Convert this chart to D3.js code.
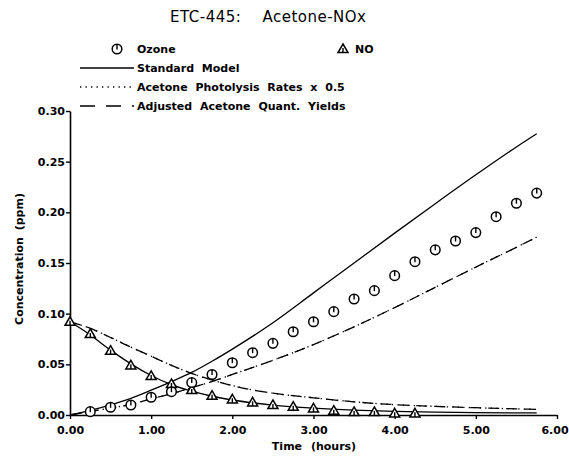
<!DOCTYPE html>
<html>
<head>
<meta charset="utf-8">
<script src="https://cdn.jsdelivr.net/npm/d3@7"></script>
<style>
  html, body { margin: 0; padding: 0; background: #fff; }
  svg { display: block; }
  .tick text { font-family: "DejaVu Sans", sans-serif; font-weight: bold; font-size: 11px; fill: #000; }
</style>
</head>
<body>
<script>
// ---------------- data ----------------
const chartTitle = "ETC-445:    Acetone-NOx";
const xTicks = [0, 1, 2, 3, 4, 5, 6];
const yTicks = [0, 0.05, 0.10, 0.15, 0.20, 0.25, 0.30];

// experimental ozone (circles)
const ozoneTime = [0.25,0.5,0.75,1.0,1.25,1.5,1.75,2.0,2.25,2.5,2.75,3.0,3.25,3.5,3.75,4.0,4.25,4.5,4.75,5.0,5.25,5.5,5.75];
const ozoneObs  = [0.0033,0.0076,0.0099,0.0175,0.023,0.032,0.040,0.0516,0.0615,0.0707,0.0822,0.092,0.102,0.1145,0.1227,0.1375,0.1513,0.163,0.1717,0.180,0.1957,0.209,0.219];

// experimental NO (triangles)
const noTime = [0,0.25,0.5,0.75,1.0,1.25,1.5,1.75,2.0,2.25,2.5,2.75,3.0,3.25,3.5,3.75,4.0,4.25];
const noObs  = [0.092,0.080,0.0635,0.049,0.0385,0.0306,0.0247,0.019,0.0155,0.0125,0.0099,0.0082,0.0066,0.0043,0.003,0.003,0.0017,0.0017];

// model calculations
const modelTime = [0,0.25,0.5,0.75,1.0,1.25,1.5,1.75,2.0,2.5,3.0,3.5,4.0,4.5,5.0,5.5,5.75];
const standardO3 = [0,0.0045,0.010,0.0165,0.0245,0.033,0.042,0.053,0.065,0.091,0.1205,0.150,0.1795,0.2085,0.237,0.2645,0.2775];
const standardNO = [0.092,0.079,0.064,0.0505,0.039,0.030,0.0235,0.0185,0.0148,0.0098,0.0068,0.0048,0.0035,0.0028,0.0024,0.0021,0.002];
const photolysisO3 = [0,0.0035,0.0068,0.0105,0.016,0.021,0.027,0.033,0.040,0.054,0.0695,0.087,0.106,0.126,0.146,0.1655,0.1755];
const photolysisNO = [0.092,0.0855,0.0765,0.067,0.058,0.049,0.041,0.0345,0.029,0.0215,0.017,0.013,0.0102,0.0085,0.0072,0.006,0.0056];
const adjustedO3 = [0,0.0035,0.0068,0.0105,0.016,0.021,0.027,0.033,0.040,0.054,0.0695,0.087,0.106,0.126,0.146,0.1655,0.1755];
const adjustedNO = [0.092,0.0855,0.0765,0.067,0.058,0.049,0.041,0.0345,0.029,0.0215,0.017,0.013,0.0102,0.0085,0.0072,0.006,0.0056];

const legendItems = ["Standard Model", "Acetone Photolysis Rates x 0.5", "Adjusted Acetone Quant. Yields"];

// ---------------- chart ----------------
const W = 569, H = 457;
const svg = d3.select("body").append("svg").attr("width", W).attr("height", H);

const x = d3.scaleLinear().domain([0, 6]).range([70, 557]);
const y = d3.scaleLinear().domain([0, 0.30]).range([415, 111]);

const textFont = "DejaVu Sans, sans-serif";

// title
svg.append("text")
  .attr("x", 170).attr("y", 22)
  .attr("font-family", textFont).attr("font-size", 15)
  .attr("letter-spacing", 0.5)
  .style("white-space", "pre")
  .attr("fill", "#000")
  .text(chartTitle);

// axes
const xAxis = d3.axisBottom(x).tickValues(xTicks).tickFormat(d3.format(".2f"))
  .tickSize(4).tickSizeOuter(0).tickPadding(7);
const yAxis = d3.axisLeft(y).tickValues(yTicks).tickFormat(d3.format(".2f"))
  .tickSize(4).tickSizeOuter(0).tickPadding(1);

const gx = svg.append("g").attr("transform", "translate(0,415)").call(xAxis);
const gy = svg.append("g").attr("transform", "translate(70,0)").call(yAxis);
[gx, gy].forEach(g => {
  g.select(".domain").attr("stroke", "#000").attr("stroke-width", 1.6);
  g.selectAll(".tick line").attr("stroke", "#000").attr("stroke-width", 1.4);
});
gx.selectAll(".tick text").filter(d => d === 6).attr("dx", -2.5);

// axis titles
svg.append("text")
  .attr("x", 314).attr("y", 450)
  .attr("text-anchor", "middle")
  .attr("font-family", textFont).attr("font-weight", "bold").attr("font-size", 11)
  .attr("word-spacing", 5)
  .text("Time (hours)");

svg.append("text")
  .attr("transform", "translate(23,259) rotate(-90)")
  .attr("text-anchor", "middle")
  .attr("font-family", textFont).attr("font-weight", "bold").attr("font-size", 11)
  .attr("word-spacing", 3)
  .text("Concentration (ppm)");

// lines
const line = d3.line().x(d => x(d[0])).y(d => y(d[1])).curve(d3.curveMonotoneX);
const zip = (t, v) => t.map((d, i) => [d, v[i]]);

const styles = {
  solid:  { dash: null,      width: 1.3 },
  dotted: { dash: "1.3,4.2", width: 1.3 },
  dashed: { dash: "11,7",    width: 1.3 }
};

function drawLine(vals, st) {
  svg.append("path")
    .datum(zip(modelTime, vals))
    .attr("fill", "none").attr("stroke", "#000")
    .attr("stroke-width", st.width)
    .attr("stroke-dasharray", st.dash)
    .attr("d", line);
}
drawLine(standardO3, styles.solid);
drawLine(standardNO, styles.solid);
drawLine(photolysisO3, styles.dotted);
drawLine(photolysisNO, styles.dotted);
drawLine(adjustedO3, styles.dashed);
drawLine(adjustedNO, styles.dashed);

// markers
function circleMarker(g) {
  g.append("circle").attr("r", 4.8).attr("fill", "#fff").attr("stroke", "#000").attr("stroke-width", 1.5);
  g.append("line").attr("x1", 0).attr("x2", 0).attr("y1", -4.8).attr("y2", 0.5)
    .attr("stroke", "#000").attr("stroke-width", 1.4);
}
function triMarker(g) {
  g.append("path").attr("d", "M0,-5 L5,3.6 L-5,3.6 Z")
    .attr("fill", "#fff").attr("stroke", "#000").attr("stroke-width", 1.5).attr("stroke-linejoin", "miter");
  g.append("line").attr("x1", 0).attr("x2", 0).attr("y1", -1).attr("y2", 3.6)
    .attr("stroke", "#000").attr("stroke-width", 1.4);
}

svg.append("g").selectAll("g").data(zip(noTime, noObs)).join("g")
  .attr("transform", d => `translate(${x(d[0])},${y(d[1])})`)
  .each(function() { triMarker(d3.select(this)); });

svg.append("g").selectAll("g").data(zip(ozoneTime, ozoneObs)).join("g")
  .attr("transform", d => `translate(${x(d[0])},${y(d[1])})`)
  .each(function() { circleMarker(d3.select(this)); });

// legend
const leg = svg.append("g")
  .attr("font-family", textFont).attr("font-weight", "bold").attr("font-size", 11)
  .attr("word-spacing", 4);

circleMarker(leg.append("g").attr("transform", "translate(117,49)"));
leg.append("text").attr("x", 137).attr("y", 53).text("Ozone");
triMarker(leg.append("g").attr("transform", "translate(343,49)"));
leg.append("text").attr("x", 355).attr("y", 53).text("NO");

const legStyles = [styles.solid, styles.dotted, { dash: "15,11", width: 1.3 }];
legendItems.forEach((name, i) => {
  const by = 72 + i * 19;
  leg.append("line")
    .attr("x1", 80).attr("x2", 134).attr("y1", by - 4).attr("y2", by - 4)
    .attr("stroke", "#000").attr("stroke-width", legStyles[i].width)
    .attr("stroke-dasharray", legStyles[i].dash);
  leg.append("text").attr("x", 137).attr("y", by).text(name);
});
</script>
</body>
</html>
